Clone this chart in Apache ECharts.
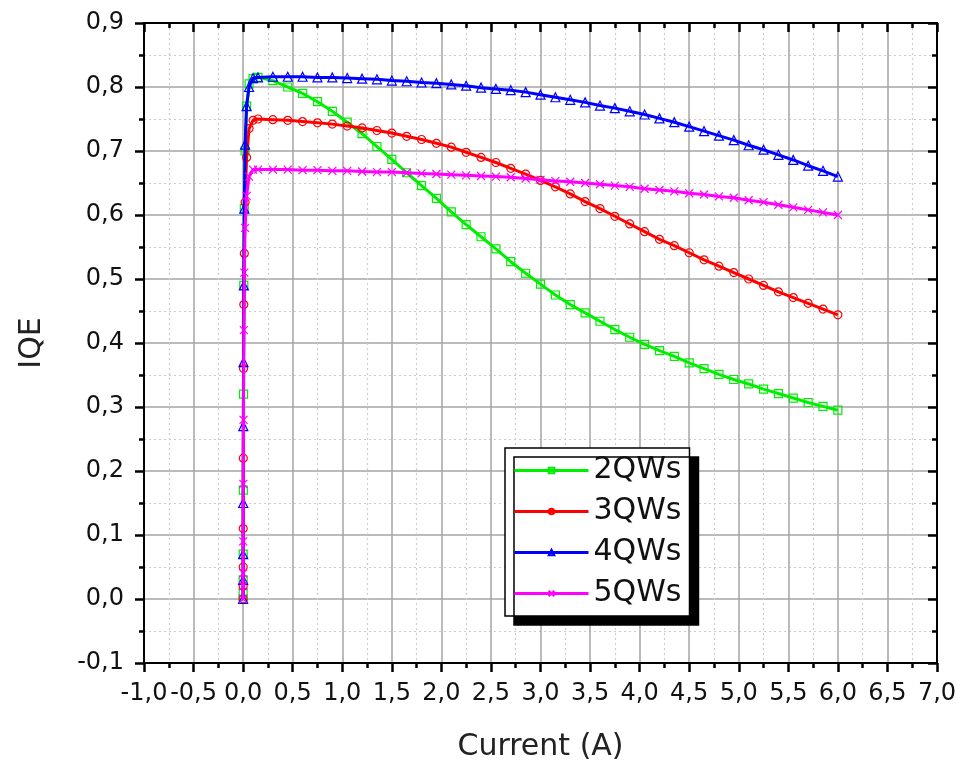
<!DOCTYPE html>
<html>
<head>
<meta charset="utf-8">
<script src="https://cdn.jsdelivr.net/npm/echarts@6/dist/echarts.min.js"></script>
<style>
  html, body { margin: 0; padding: 0; background: #fff; }
  #chart { width: 957px; height: 763px; }
</style>
</head>
<body>
<div id="chart"></div>
<script>
// Drive current (A): a dense low-current ramp followed by the main sweep
const current = [0, 0.0002, 0.0005, 0.001, 0.002, 0.004, 0.007, 0.012, 0.02, 0.035, 0.06, 0.1,
  0.15, 0.3, 0.45, 0.6, 0.75, 0.9, 1.05, 1.2, 1.35, 1.5, 1.65, 1.8, 1.95, 2.1, 2.25, 2.4, 2.55, 2.7, 2.85, 3.0,
  3.15, 3.3, 3.45, 3.6, 3.75, 3.9, 4.05, 4.2, 4.35, 4.5, 4.65, 4.8, 4.95, 5.1, 5.25, 5.4, 5.55, 5.7, 5.85, 6.0];

// Internal quantum efficiency for each quantum-well count
const iqe2QW = [0, 0.01, 0.03, 0.07, 0.17, 0.32, 0.49, 0.61, 0.70, 0.77, 0.805, 0.813,
  0.815, 0.810, 0.800, 0.790, 0.777, 0.762, 0.745, 0.727, 0.707, 0.687, 0.666, 0.646, 0.626, 0.605, 0.585, 0.566, 0.547, 0.527, 0.509, 0.492,
  0.475, 0.460, 0.447, 0.434, 0.421, 0.409, 0.398, 0.388, 0.379, 0.369, 0.360, 0.351, 0.343, 0.336, 0.328, 0.321, 0.314, 0.307, 0.301, 0.295];
const iqe3QW = [0, 0.02, 0.05, 0.11, 0.22, 0.36, 0.46, 0.54, 0.62, 0.69, 0.735, 0.748,
  0.750, 0.749, 0.748, 0.746, 0.744, 0.742, 0.739, 0.736, 0.732, 0.728, 0.723, 0.718, 0.712, 0.706, 0.698, 0.690, 0.682, 0.673, 0.664, 0.654,
  0.644, 0.633, 0.621, 0.610, 0.598, 0.586, 0.574, 0.562, 0.552, 0.541, 0.530, 0.520, 0.510, 0.500, 0.490, 0.480, 0.471, 0.462, 0.453, 0.444];
const iqe4QW = [0, 0.03, 0.07, 0.15, 0.27, 0.37, 0.49, 0.61, 0.71, 0.77, 0.800, 0.814,
  0.815, 0.816, 0.816, 0.816, 0.815, 0.815, 0.814, 0.813, 0.812, 0.810, 0.809, 0.807, 0.806, 0.804, 0.802, 0.799, 0.797, 0.795, 0.792, 0.788,
  0.784, 0.780, 0.776, 0.771, 0.767, 0.762, 0.757, 0.751, 0.745, 0.738, 0.731, 0.724, 0.717, 0.709, 0.702, 0.694, 0.686, 0.677, 0.669, 0.660];
const iqe5QW = [0, 0.02, 0.04, 0.09, 0.18, 0.28, 0.42, 0.51, 0.58, 0.63, 0.660, 0.671,
  0.671, 0.671, 0.671, 0.670, 0.670, 0.669, 0.669, 0.668, 0.667, 0.667, 0.666, 0.665, 0.664, 0.663, 0.662, 0.661, 0.660, 0.659, 0.657, 0.655,
  0.653, 0.652, 0.650, 0.648, 0.646, 0.644, 0.641, 0.639, 0.637, 0.634, 0.632, 0.629, 0.627, 0.623, 0.620, 0.616, 0.612, 0.608, 0.604, 0.600];

const seriesNames = ['2QWs', '3QWs', '4QWs', '5QWs'];
const seriesColors = ['#00ee00', '#ff0000', '#0000ff', '#ff00ff'];
const seriesSymbols = ['rect', 'circle', 'triangle', 'path://M0,0L10,10M10,0L0,10'];
const seriesValues = [iqe2QW, iqe3QW, iqe4QW, iqe5QW];

const fmtComma = v => v.toFixed(1).replace('.', ',');
const FONT = 'DejaVu Sans, sans-serif';

const chart = echarts.init(document.getElementById('chart'), null, { renderer: 'canvas' });

const frameLine = { show: true, onZero: false, lineStyle: { color: '#000', width: 2 } };
const outTick = { show: true, inside: false, length: 9, lineStyle: { width: 2.5, color: '#000' } };
const inTick = { show: true, inside: true, length: 9, lineStyle: { width: 2.5, color: '#000' } };
const minor = { show: true, splitNumber: 2, length: 5, lineStyle: { width: 2.5, color: '#000' } };
const majorGrid = { show: true, lineStyle: { color: '#a4a4a4', width: 1.5 } };
const minorGrid = { show: true, lineStyle: { color: '#cccccc', width: 1.2, type: [2, 3] } };

const option = {
  backgroundColor: '#fff',
  animation: false,
  grid: { left: 144, right: 20, top: 23, bottom: 100, containLabel: false, outerBoundsMode: 'none' },
  legend: {
    data: seriesNames,
    orient: 'vertical',
    left: 505,
    top: 448,
    backgroundColor: '#fff',
    borderColor: '#000',
    borderWidth: 1.5,
    borderRadius: 0,
    shadowColor: '#000',
    shadowBlur: 0,
    shadowOffsetX: 9,
    shadowOffsetY: 9,
    padding: [7, 8, 7, 8],
    itemWidth: 74,
    itemHeight: 7,
    itemGap: 10,
    lineStyle: { width: 3 },
    textStyle: { fontFamily: FONT, fontSize: 30, color: '#111', lineHeight: 31 }
  },
  xAxis: [{
    type: 'value', min: -1, max: 7, interval: 0.5,
    position: 'bottom',
    name: 'Current (A)', nameLocation: 'middle', nameGap: 69,
    nameTextStyle: { fontFamily: FONT, fontSize: 30, color: '#222' },
    axisLine: frameLine,
    axisTick: outTick,
    minorTick: minor,
    axisLabel: { formatter: fmtComma, fontFamily: FONT, fontSize: 24, color: '#111', margin: 19 },
    splitLine: majorGrid,
    minorSplitLine: minorGrid
  }, {
    type: 'value', min: -1, max: 7, interval: 0.5,
    position: 'top',
    axisLine: frameLine,
    axisTick: inTick,
    minorTick: minor,
    axisLabel: { show: false },
    splitLine: { show: false }
  }],
  yAxis: [{
    type: 'value', min: -0.1, max: 0.9, interval: 0.1,
    position: 'left',
    name: 'IQE', nameLocation: 'middle', nameGap: 97, nameRotate: 90,
    nameTextStyle: { fontFamily: FONT, fontSize: 30, color: '#222' },
    axisLine: frameLine,
    axisTick: outTick,
    minorTick: minor,
    axisLabel: { formatter: fmtComma, fontFamily: FONT, fontSize: 24, color: '#111', margin: 20 },
    splitLine: majorGrid,
    minorSplitLine: minorGrid
  }, {
    type: 'value', min: -0.1, max: 0.9, interval: 0.1,
    position: 'right',
    axisLine: frameLine,
    axisTick: inTick,
    minorTick: minor,
    axisLabel: { show: false },
    splitLine: { show: false }
  }],
  series: seriesNames.map((name, i) => ({
    name,
    type: 'line',
    xAxisIndex: 0,
    yAxisIndex: 0,
    data: current.map((c, k) => [c, seriesValues[i][k]]),
    color: seriesColors[i],
    symbol: seriesSymbols[i],
    symbolSize: i === 2 ? 9 : 8,
    showAllSymbol: true,
    lineStyle: { color: seriesColors[i], width: 3 },
    itemStyle: { color: 'rgba(255,255,255,0)', borderColor: seriesColors[i], borderWidth: 1.2 },
    emphasis: { disabled: true },
    z: 3 + i
  }))
};

chart.setOption(option);
</script>
</body>
</html>
